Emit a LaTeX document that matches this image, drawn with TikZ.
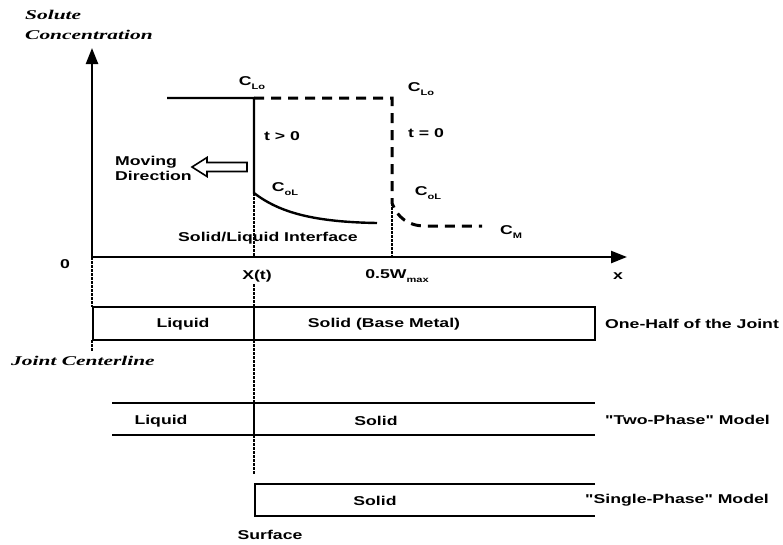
\documentclass[tikz,border=0pt]{standalone}
\usepackage{fontspec}
\usetikzlibrary{arrows.meta}
\newfontfamily\labfont{Liberation Sans}[FakeStretch=1.38]
\newfontfamily\italfont{Liberation Serif}[FakeStretch=1.6]
\newcommand\lsub[1]{\raisebox{-0.5ex}{\fontsize{8}{8}\selectfont #1}}
\tikzset{
  lbl/.style={inner sep=0pt, font=\labfont\bfseries\fontsize{12.8}{14}\selectfont},
  ital/.style={inner sep=0pt, anchor=west, font=\italfont\bfseries\itshape\fontsize{13.4}{15}\selectfont},
  axis/.style={line width=2.4pt, -{Triangle[length=16pt,width=12pt]}},
  curve/.style={line width=2.4pt},
  dcurve/.style={line width=3pt, dash pattern=on 10pt off 7pt},
  guide/.style={line width=1.3pt, dash pattern=on 2.5pt off 1.5pt},
  bar/.style={line width=2pt},
  hollow/.style={line width=1.6pt, fill=white, line join=miter}
}
\begin{document}
\begin{tikzpicture}[x=1pt,y=-1pt]
\useasboundingbox (0,0) rectangle (783,544);
% axes
\coordinate (O) at (92,257);
\coordinate (ytip) at (92,48);
\coordinate (xtip) at (627,257);
\draw[axis] (O) -- (ytip);
\draw[axis] (O) -- (xtip);
\node[ital] (solute) at (25,15) {Solute};
\node[ital] (conc) at (25,35) {Concentration};
\node[lbl] (zero) at (65,264) {0};
\node[lbl] (xlab) at (618,276) {x};
\node[lbl] (xt) at (257,276) {X(t)};
\node[lbl] (wmax) at (397,276) {0.5W\lsub{max}};
% t > 0 profile
\coordinate (a1) at (167,98);
\coordinate (a2) at (254,98);
\coordinate (a3) at (254,193);
\coordinate (a4) at (377,223);
\draw[curve, line join=miter] (a1) -- (a2) -- (a3) .. controls (280,213) and (315,222) .. (a4);
% t = 0 profile
\coordinate (b2) at (392,98);
\coordinate (b3) at (392,203);
\coordinate (b4) at (425,226);
\coordinate (b5) at (482,226);
\draw[dcurve] (a2) -- (b2) -- (b3) .. controls (397,217) and (408,226) .. (b4) -- (b5);
% labels
\node[lbl] (clo1) at (252,83) {C\lsub{Lo}};
\node[lbl] (clo2) at (421,89) {C\lsub{Lo}};
\node[lbl] (tg) at (282,136) {t > 0};
\node[lbl] (te) at (426,133) {t = 0};
\node[lbl] (col1) at (285,189) {C\lsub{oL}};
\node[lbl] (col2) at (428,193) {C\lsub{oL}};
\node[lbl] (cm) at (511,232) {C\lsub{M}};
\node[lbl, anchor=west] (mov) at (115,162) {Moving};
\node[lbl, anchor=west] (dir) at (115,176) {Direction};
\node[lbl] (sli) at (268,238) {Solid/Liquid Interface};
% hollow arrow
\draw[hollow] (192,167) -- (207,157.5) -- (207,162.5) -- (247,162.5) -- (247,171.5) -- (207,171.5) -- (207,176.5) -- cycle;
% guide lines
\coordinate (g1) at (92,307);
\coordinate (g2) at (92,352);
\coordinate (g1b) at (92,340);
\draw[guide] (O) -- (g1);
\draw[guide] (g1b) -- (g2);
\coordinate (i0) at (254,258);
\coordinate (i1) at (254,284);
\coordinate (i2) at (254,307);
\draw[guide] (a3) -- (i0);
\draw[guide] (i1) -- (i2);
\coordinate (i3) at (254,340);
\coordinate (i4) at (254,403);
\draw[guide] (i3) -- (i4);
\coordinate (i5) at (254,435);
\coordinate (i6) at (254,474);
\draw[guide] (i5) -- (i6);
\coordinate (w0) at (392,257);
\draw[guide] (b3) -- (w0);
% one-half of the joint
\draw[bar] (93,307) rectangle (595,340);
\draw[bar] (i2) -- (i3);
\node[lbl] (liq1) at (183,324) {Liquid};
\node[lbl] (sol1) at (384,324) {Solid (Base Metal)};
\node[lbl, anchor=west] (half) at (605,324) {One-Half of the Joint};
\node[ital] (jc) at (11,361) {Joint Centerline};
% two-phase
\draw[bar] (112,403) -- (595,403);
\draw[bar] (112,435) -- (595,435);
\draw[bar] (i4) -- (i5);
\node[lbl] (liq2) at (161,421) {Liquid};
\node[lbl] (sol2) at (376,421) {Solid};
\node[lbl, anchor=west] (two) at (605,420) {"Two-Phase" Model};
% single-phase
\draw[bar] (595,484) -- (255,484) -- (255,516) -- (595,516);
\node[lbl] (sol3) at (375,501) {Solid};
\node[lbl, anchor=west] (single) at (585,500) {"Single-Phase" Model};
\node[lbl] (surf) at (270,535) {Surface};
\end{tikzpicture}
\end{document}
